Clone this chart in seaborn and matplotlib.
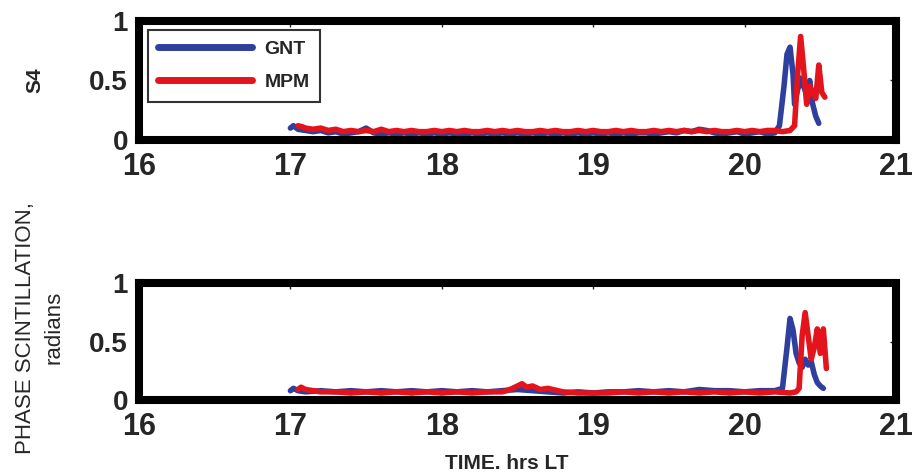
import matplotlib

matplotlib.use("Agg")
import matplotlib.pyplot as plt
import pandas as pd
import seaborn as sns

# S4 amplitude scintillation, hours LT
gnt_s4_time = [
    17.00, 17.02, 17.05, 17.10, 17.15, 17.20, 17.25, 17.30, 17.35, 17.40,
    17.45, 17.50, 17.55, 17.60, 17.65, 17.70, 17.75, 17.80, 17.85, 17.90,
    17.95, 18.00, 18.05, 18.10, 18.15, 18.20, 18.25, 18.30, 18.35, 18.40,
    18.45, 18.50, 18.55, 18.60, 18.65, 18.70, 18.75, 18.80, 18.85, 18.90,
    18.95, 19.00, 19.05, 19.10, 19.15, 19.20, 19.25, 19.30, 19.35, 19.40,
    19.45, 19.50, 19.55, 19.60, 19.65, 19.70, 19.75, 19.80, 19.85, 19.90,
    19.95, 20.00, 20.05, 20.10, 20.15, 20.20, 20.23, 20.26, 20.28, 20.30,
    20.32, 20.33, 20.35, 20.37, 20.39, 20.41, 20.43, 20.45, 20.47, 20.49,
]
gnt_s4 = [
    0.10, 0.12, 0.09, 0.08, 0.07, 0.08, 0.06, 0.07, 0.05, 0.06,
    0.07, 0.10, 0.06, 0.05, 0.06, 0.05, 0.06, 0.05, 0.06, 0.05,
    0.06, 0.05, 0.06, 0.05, 0.05, 0.06, 0.05, 0.06, 0.05, 0.06,
    0.05, 0.06, 0.05, 0.06, 0.05, 0.06, 0.05, 0.06, 0.05, 0.06,
    0.05, 0.06, 0.05, 0.06, 0.05, 0.06, 0.05, 0.06, 0.06, 0.05,
    0.06, 0.07, 0.06, 0.08, 0.07, 0.09, 0.08, 0.06, 0.05, 0.06,
    0.07, 0.05, 0.06, 0.07, 0.05, 0.06, 0.12, 0.45, 0.72, 0.78,
    0.55, 0.30, 0.42, 0.52, 0.45, 0.38, 0.50, 0.30, 0.20, 0.14,
]
mpm_s4_time = [
    17.05, 17.08, 17.10, 17.15, 17.20, 17.25, 17.30, 17.35, 17.40, 17.45,
    17.50, 17.55, 17.60, 17.65, 17.70, 17.75, 17.80, 17.85, 17.90, 17.95,
    18.00, 18.05, 18.10, 18.15, 18.20, 18.25, 18.30, 18.35, 18.40, 18.45,
    18.50, 18.55, 18.60, 18.65, 18.70, 18.75, 18.80, 18.85, 18.90, 18.95,
    19.00, 19.05, 19.10, 19.15, 19.20, 19.25, 19.30, 19.35, 19.40, 19.45,
    19.50, 19.55, 19.60, 19.65, 19.70, 19.75, 19.80, 19.85, 19.90, 19.95,
    20.00, 20.05, 20.10, 20.15, 20.20, 20.25, 20.30, 20.33, 20.35, 20.37,
    20.39, 20.41, 20.43, 20.45, 20.47, 20.49, 20.51, 20.53,
]
mpm_s4 = [
    0.12, 0.11, 0.10, 0.09, 0.10, 0.08, 0.09, 0.07, 0.08, 0.07,
    0.08, 0.07, 0.09, 0.07, 0.08, 0.07, 0.08, 0.07, 0.07, 0.08,
    0.07, 0.08, 0.07, 0.08, 0.07, 0.07, 0.08, 0.07, 0.08, 0.07,
    0.08, 0.07, 0.07, 0.08, 0.07, 0.08, 0.07, 0.07, 0.08, 0.07,
    0.08, 0.07, 0.07, 0.08, 0.07, 0.08, 0.07, 0.07, 0.08, 0.07,
    0.08, 0.07, 0.08, 0.07, 0.08, 0.07, 0.08, 0.07, 0.07, 0.08,
    0.07, 0.08, 0.07, 0.08, 0.08, 0.07, 0.08, 0.12, 0.55, 0.87,
    0.60, 0.30, 0.45, 0.40, 0.35, 0.63, 0.40, 0.36,
]

# phase scintillation, radians
gnt_phase_time = [
    17.00, 17.02, 17.05, 17.10, 17.20, 17.30, 17.40, 17.50, 17.60, 17.70,
    17.80, 17.90, 18.00, 18.10, 18.20, 18.30, 18.40, 18.50, 18.60, 18.70,
    18.80, 18.90, 19.00, 19.10, 19.20, 19.30, 19.40, 19.50, 19.60, 19.70,
    19.80, 19.90, 20.00, 20.10, 20.20, 20.25, 20.28, 20.30, 20.32, 20.34,
    20.36, 20.38, 20.40, 20.42, 20.44, 20.46, 20.48, 20.50, 20.52,
]
gnt_phase = [
    0.08, 0.10, 0.08, 0.07, 0.08, 0.07, 0.08, 0.07, 0.08, 0.07,
    0.08, 0.07, 0.08, 0.07, 0.08, 0.07, 0.08, 0.09, 0.08, 0.07,
    0.06, 0.07, 0.06, 0.07, 0.07, 0.08, 0.07, 0.08, 0.07, 0.09,
    0.08, 0.08, 0.07, 0.08, 0.08, 0.10, 0.45, 0.70, 0.60, 0.40,
    0.32, 0.28, 0.35, 0.30, 0.33, 0.22, 0.15, 0.12, 0.10,
]
mpm_phase_time = [
    17.05, 17.07, 17.10, 17.15, 17.20, 17.30, 17.40, 17.50, 17.60, 17.70,
    17.80, 17.90, 18.00, 18.10, 18.20, 18.30, 18.40, 18.45, 18.50, 18.53,
    18.56, 18.60, 18.65, 18.70, 18.80, 18.90, 19.00, 19.10, 19.20, 19.30,
    19.40, 19.50, 19.60, 19.70, 19.80, 19.90, 20.00, 20.10, 20.20, 20.30,
    20.34, 20.36, 20.38, 20.40, 20.42, 20.44, 20.46, 20.48, 20.50, 20.52,
    20.54,
]
mpm_phase = [
    0.09, 0.11, 0.09, 0.08, 0.07, 0.07, 0.06, 0.07, 0.06, 0.07,
    0.06, 0.07, 0.06, 0.07, 0.06, 0.07, 0.07, 0.09, 0.12, 0.14,
    0.11, 0.12, 0.09, 0.10, 0.07, 0.06, 0.06, 0.06, 0.07, 0.06,
    0.07, 0.06, 0.07, 0.06, 0.07, 0.06, 0.07, 0.06, 0.07, 0.06,
    0.07, 0.10, 0.55, 0.75, 0.55, 0.35, 0.45, 0.61, 0.40, 0.61,
    0.27,
]

stations = ["GNT", "MPM"]
palette = {"GNT": "#2f3f9e", "MPM": "#e3141c"}


def to_frame(gnt_t, gnt_v, mpm_t, mpm_v):
    gnt = pd.DataFrame({"time": gnt_t, "value": gnt_v, "station": "GNT"})
    mpm = pd.DataFrame({"time": mpm_t, "value": mpm_v, "station": "MPM"})
    return pd.concat([gnt, mpm], ignore_index=True)


s4_frame = to_frame(gnt_s4_time, gnt_s4, mpm_s4_time, mpm_s4)
phase_frame = to_frame(gnt_phase_time, gnt_phase, mpm_phase_time, mpm_phase)

sns.set_style("white")
plt.rcParams["font.family"] = ["Liberation Sans", "DejaVu Sans"]

fig = plt.figure(figsize=(9.17, 4.75), dpi=100)
ax_top = fig.add_axes([0.1516, 0.7053, 0.8255, 0.2505])
ax_bot = fig.add_axes([0.1516, 0.1579, 0.8255, 0.2453])

for ax, frame in [(ax_top, s4_frame), (ax_bot, phase_frame)]:
    sns.lineplot(
        data=frame,
        x="time",
        y="value",
        hue="station",
        hue_order=stations,
        palette=palette,
        estimator=None,
        sort=False,
        linewidth=4,
        ax=ax,
        legend=(ax is ax_top),
    )
    ax.set_xlim(16, 21)
    ax.set_ylim(0, 1)
    ax.set_xticks([16, 17, 18, 19, 20, 21])
    ax.set_yticks([0, 0.5, 1])
    ax.set_yticklabels(["0", "0.5", "1"])
    ax.tick_params(direction="in", length=4, width=1, top=True, right=True)
    ax.tick_params(axis="x", labelsize=22, pad=9)
    ax.tick_params(axis="y", labelsize=20, pad=8)
    for label in ax.get_xticklabels() + ax.get_yticklabels():
        label.set_fontweight("bold")
    for spine in ax.spines.values():
        spine.set_linewidth(5.8)
        spine.set_color("black")
    ax.set_xlabel("")
    ax.set_ylabel("")

ax_top.set_ylabel("S4", fontsize=15, fontweight="bold")
ax_top.yaxis.set_label_coords(-0.125, 0.5)
ax_bot.set_xlabel("TIME. hrs LT", fontsize=15, fontweight="bold")
ax_bot.xaxis.set_label_coords(0.486, -0.46)
fig.text(
    0.0436, 0.31, "PHASE SCINTILLATION,\nradians",
    rotation=90, ha="center", va="center", fontsize=16, linespacing=1.45,
)

legend = ax_top.legend(
    loc="upper left",
    bbox_to_anchor=(0.0, 1.0),
    borderaxespad=0.45,
    borderpad=0.55,
    handlelength=4.8,
    handletextpad=0.65,
    labelspacing=0.8,
    fancybox=False,
    frameon=True,
    edgecolor="black",
    prop={"weight": "bold", "size": 14},
)
legend.get_frame().set_linewidth(1.5)
for line in legend.get_lines():
    line.set_linewidth(5)

fig.savefig("out.png", dpi=100)
